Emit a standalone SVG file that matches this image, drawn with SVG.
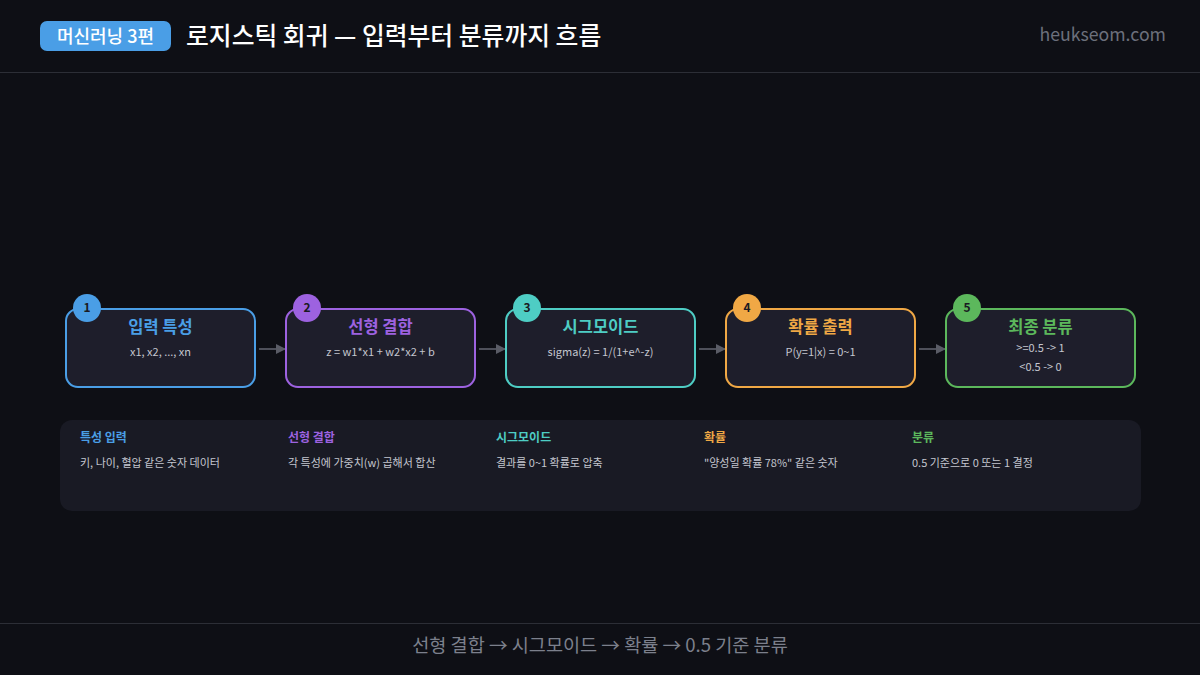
<svg xmlns="http://www.w3.org/2000/svg" width="1200" height="675" viewBox="0 0 1200 675">
<defs>
<style>
text{font-family:"Noto Sans CJK KR","Noto Sans",sans-serif;}
.box{fill:#1e1e2b;stroke-width:2;}
.ttl{font-size:16.5px;font-weight:700;text-anchor:middle;}
.sub{font-size:11px;fill:#c4c6cf;text-anchor:middle;}
.num{font-size:12px;font-weight:700;fill:#1a1a22;text-anchor:middle;}
.hd{font-size:12px;font-weight:700;}
.ds{font-size:11px;fill:#c4c6cf;}
.conn{stroke:#4e505a;stroke-width:2;fill:none;}
</style>
<marker id="ah" markerWidth="10" markerHeight="10" refX="9" refY="5" orient="auto" markerUnits="userSpaceOnUse"><path d="M0,0 L10,5 L0,10 Z" fill="#5a5c66"/></marker>
</defs>
<rect width="1200" height="675" fill="#0e0f15"/>
<g id="header">
<rect x="40" y="21" width="131" height="30" rx="7" fill="#4a9ee6"/>
<text x="105.5" y="43" font-size="18" font-weight="500" fill="#ffffff" text-anchor="middle">머신러닝 3편</text>
<text x="186" y="45" font-size="24.8" font-weight="500" fill="#ffffff">로지스틱 회귀 — 입력부터 분류까지 흐름</text>
<text x="1166" y="41" font-size="17.7" fill="#6c707c" text-anchor="end">heukseom.com</text>
<line x1="0" y1="72.5" x2="1200" y2="72.5" stroke="#2c2e36" stroke-width="1"/>
</g>
<g id="connectors">
<line class="conn" x1="259" y1="349" x2="285" y2="349" marker-end="url(#ah)"/>
<line class="conn" x1="479" y1="349" x2="505" y2="349" marker-end="url(#ah)"/>
<line class="conn" x1="699" y1="349" x2="725" y2="349" marker-end="url(#ah)"/>
<line class="conn" x1="919" y1="349" x2="945" y2="349" marker-end="url(#ah)"/>
</g>
<g id="node1">
<rect class="box" x="66" y="309" width="189" height="78" rx="12" stroke="#4a9ee6"/>
<circle cx="87" cy="308" r="14" fill="#4a9ee6"/>
<text class="num" x="87" y="312">1</text>
<text class="ttl" x="160.5" y="333" fill="#4a9ee6">입력 특성</text>
<text class="sub" x="160.5" y="356">x1, x2, ..., xn</text>
</g>
<g id="node2">
<rect class="box" x="286" y="309" width="189" height="78" rx="12" stroke="#9d62e0"/>
<circle cx="307" cy="308" r="14" fill="#9d62e0"/>
<text class="num" x="307" y="312">2</text>
<text class="ttl" x="380.5" y="333" fill="#9d62e0">선형 결합</text>
<text class="sub" x="380.5" y="356">z = w1*x1 + w2*x2 + b</text>
</g>
<g id="node3">
<rect class="box" x="506" y="309" width="189" height="78" rx="12" stroke="#4ecdc4"/>
<circle cx="527" cy="308" r="14" fill="#4ecdc4"/>
<text class="num" x="527" y="312">3</text>
<text class="ttl" x="600.5" y="333" fill="#4ecdc4">시그모이드</text>
<text class="sub" x="600.5" y="356">sigma(z) = 1/(1+e^-z)</text>
</g>
<g id="node4">
<rect class="box" x="726" y="309" width="189" height="78" rx="12" stroke="#f0a845"/>
<circle cx="747" cy="308" r="14" fill="#f0a845"/>
<text class="num" x="747" y="312">4</text>
<text class="ttl" x="820.5" y="333" fill="#f0a845">확률 출력</text>
<text class="sub" x="820.5" y="356">P(y=1|x) = 0~1</text>
</g>
<g id="node5">
<rect class="box" x="946" y="309" width="189" height="78" rx="12" stroke="#5cb85c"/>
<circle cx="967" cy="308" r="14" fill="#5cb85c"/>
<text class="num" x="967" y="312">5</text>
<text class="ttl" x="1040.5" y="333" fill="#5cb85c">최종 분류</text>
<text class="sub" x="1040.5" y="352">&gt;=0.5 -&gt; 1</text>
<text class="sub" x="1040.5" y="371">&lt;0.5 -&gt; 0</text>
</g>
<g id="legend">
<rect x="60" y="420" width="1081" height="91" rx="12" fill="#191a24"/>
<text class="hd" x="80" y="442" fill="#4a9ee6">특성 입력</text>
<text class="ds" x="80" y="467">키, 나이, 혈압 같은 숫자 데이터</text>
<text class="hd" x="288" y="442" fill="#9d62e0">선형 결합</text>
<text class="ds" x="288" y="467">각 특성에 가중치(w) 곱해서 합산</text>
<text class="hd" x="496" y="442" fill="#4ecdc4">시그모이드</text>
<text class="ds" x="496" y="467">결과를 0~1 확률로 압축</text>
<text class="hd" x="704" y="442" fill="#f0a845">확률</text>
<text class="ds" x="704" y="467">"양성일 확률 78%" 같은 숫자</text>
<text class="hd" x="912" y="442" fill="#5cb85c">분류</text>
<text class="ds" x="912" y="467">0.5 기준으로 0 또는 1 결정</text>
</g>
<g id="footer">
<line x1="0" y1="623.5" x2="1200" y2="623.5" stroke="#2c2e36" stroke-width="1"/>
<text x="600" y="652" font-size="18.6" fill="#7c808c" text-anchor="middle">선형 결합 → 시그모이드 → 확률 → 0.5 기준 분류</text>
</g>
</svg>
